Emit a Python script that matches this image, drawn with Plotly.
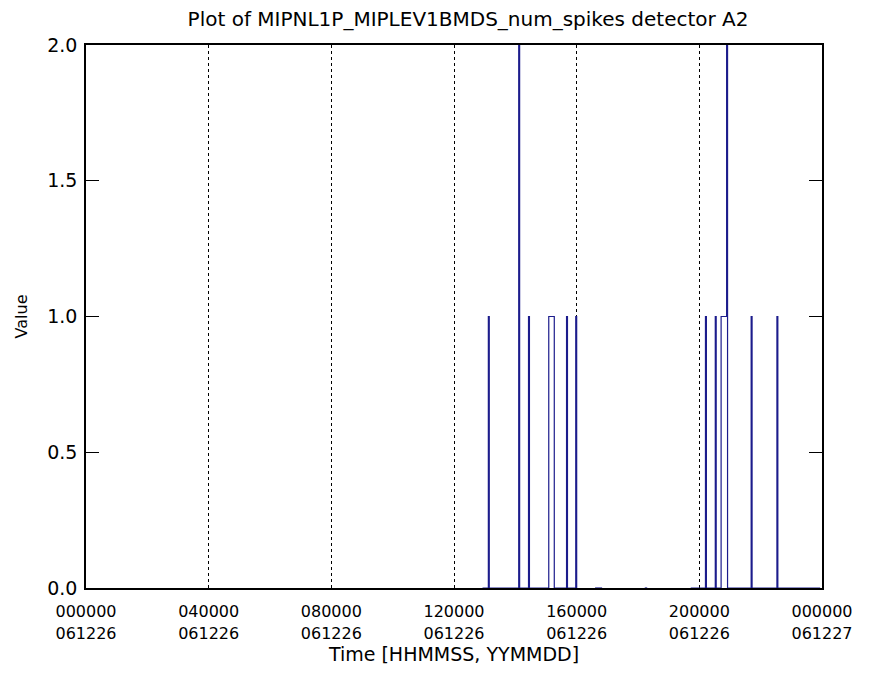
import plotly.graph_objects as go

# Time in hours since 000000 061226; None marks a data gap
times = [12.93, 13.12, 13.15, 14.11, 14.14, 14.43, 14.46, 15.09, 15.27, 15.67, 15.70, 15.97, 16.00, None,
         16.60, 16.83, None,
         18.22, 18.30, None,
         19.72, 20.20, 20.23, 20.52, 20.55, 20.71, 20.86, 20.89, 20.92, 21.69, 21.72, 22.53, 22.56, 23.94]
values = [0, 1, 0, 2, 0, 1, 0, 1, 0, 1, 0, 1, 0, None,
          0, 0, None,
          0, 0, None,
          0, 1, 0, 1, 0, 1, 1, 2, 0, 1, 0, 1, 0, 0]

tick_hours = [0, 4, 8, 12, 16, 20, 24]
tick_time = ["000000", "040000", "080000", "120000", "160000", "200000", "000000"]
tick_date = ["061226", "061226", "061226", "061226", "061226", "061226", "061227"]
y_ticks = [0.0, 0.5, 1.0, 1.5, 2.0]
y_text = ["0.0", "0.5", "1.0", "1.5", "2.0"]

font = "DejaVu Sans, sans-serif"

fig = go.Figure()
fig.add_trace(go.Scatter(x=times, y=values, mode="lines", line=dict(color="#1c1c8c", width=1.2, shape="hv"),
                         connectgaps=False, showlegend=False, hoverinfo="skip"))
# invisible trace to carry the date tick row
fig.add_trace(go.Scatter(x=[tick_hours[0]], y=[0], xaxis="x2", mode="markers",
                         marker=dict(opacity=0), showlegend=False, hoverinfo="skip"))

fig.update_layout(
    width=873, height=675,
    margin=dict(l=74, r=59, t=37, b=95),
    paper_bgcolor="white", plot_bgcolor="white",
    title=dict(text="Plot of MIPNL1P_MIPLEV1BMDS_num_spikes detector A2", xref="container", x=0.527,
               xanchor="center", y=0.994, yanchor="top", font=dict(family=font, size=20, color="black")),
    font=dict(family=font, color="black"),
    xaxis=dict(range=[0, 24], tickvals=tick_hours, ticktext=tick_time, ticks="", showgrid=True,
               gridcolor="black", griddash="dot", gridwidth=1.1, showline=True, linecolor="black",
               linewidth=1.6, mirror=True, zeroline=False, layer="below traces",
               tickfont=dict(size=16, family=font), ticklabelstandoff=8,
               title=dict(text="Time [HHMMSS, YYMMDD]", font=dict(size=19, family=font), standoff=28)),
    xaxis2=dict(range=[0, 24], overlaying="x", side="bottom", anchor="y", tickvals=tick_hours,
                ticktext=tick_date, ticks="", showgrid=False, showline=False, zeroline=False,
                tickfont=dict(size=16, family=font), ticklabelstandoff=34),
    yaxis=dict(range=[0, 2], tickvals=y_ticks, ticktext=y_text, ticks="inside", ticklen=13,
               tickcolor="black", tickwidth=1.2, showgrid=False, showline=True, linecolor="black",
               linewidth=1.6, mirror="ticks", zeroline=False, layer="below traces",
               tickfont=dict(size=19, family=font), ticklabelstandoff=3,
               title=dict(text="Value", font=dict(size=16, family=font), standoff=16)),
)

fig.write_html("out.html")
